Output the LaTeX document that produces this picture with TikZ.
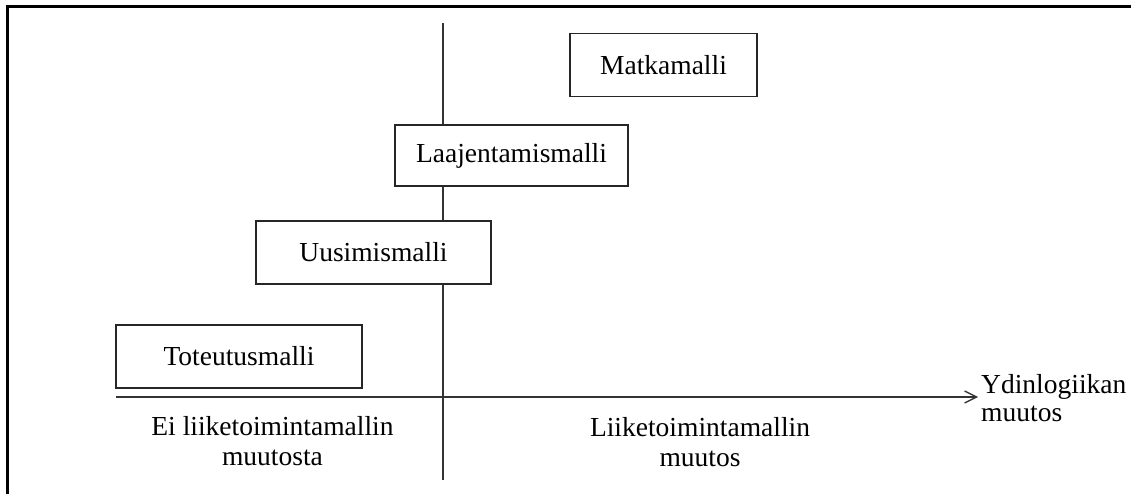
\documentclass[tikz,border=0pt]{standalone}
\usepackage{fontspec}
\setmainfont{Liberation Serif}
\usetikzlibrary{arrows.meta}
\begin{document}
\begin{tikzpicture}[x=1pt,y=-1pt,
  model/.style={draw=black!85, line width=1.3pt, fill=white, inner sep=0pt,
    font=\fontsize{27.5}{30}\selectfont},
  axis/.style={draw=black!80, line width=1.3pt},
  lbl/.style={inner sep=0pt, align=center, font=\fontsize{27.5}{30}\selectfont}]
  \useasboundingbox (0,0) rectangle (1131,494);
  % partial outer frame
  \draw[line width=3pt, line join=miter] (7.5,494) -- (7.5,6.5) -- (1131,6.5);

  % axes
  \coordinate (vtop) at (443,23);
  \coordinate (vbot) at (443,480);
  \coordinate (hl) at (116,397);
  \coordinate (hr) at (978,397);
  \draw[axis] (vtop) -- (vbot);
  \draw[axis, -{Straight Barb[length=12pt,width=12pt,line width=1.3pt]}] (hl) -- (hr);

  % models
  \node[model, minimum width=187pt, minimum height=63pt] (matka) at (663.5,65) {Matkamalli};
  \node[model, minimum width=233pt, minimum height=61pt] (laaj) at (511.5,155.5) {Laajentamismalli};
  \node[model, minimum width=235pt, minimum height=63pt] (uus) at (373.5,252.5) {Uusimismalli};
  \node[model, minimum width=246pt, minimum height=63pt] (tot) at (239,356.5) {Toteutusmalli};

  % axis labels
  \node[lbl, anchor=north] (ei) at (272.5,416.5) {Ei liiketoimintamallin\\muutosta};
  \node[lbl, anchor=north] (liike) at (700,417) {Liiketoimintamallin\\muutos};
  \node[lbl, anchor=north west, align=left, font=\fontsize{27.5}{27.5}\selectfont] (ydin) at (981,374.5) {Ydinlogiikan\\muutos};
\end{tikzpicture}
\end{document}
